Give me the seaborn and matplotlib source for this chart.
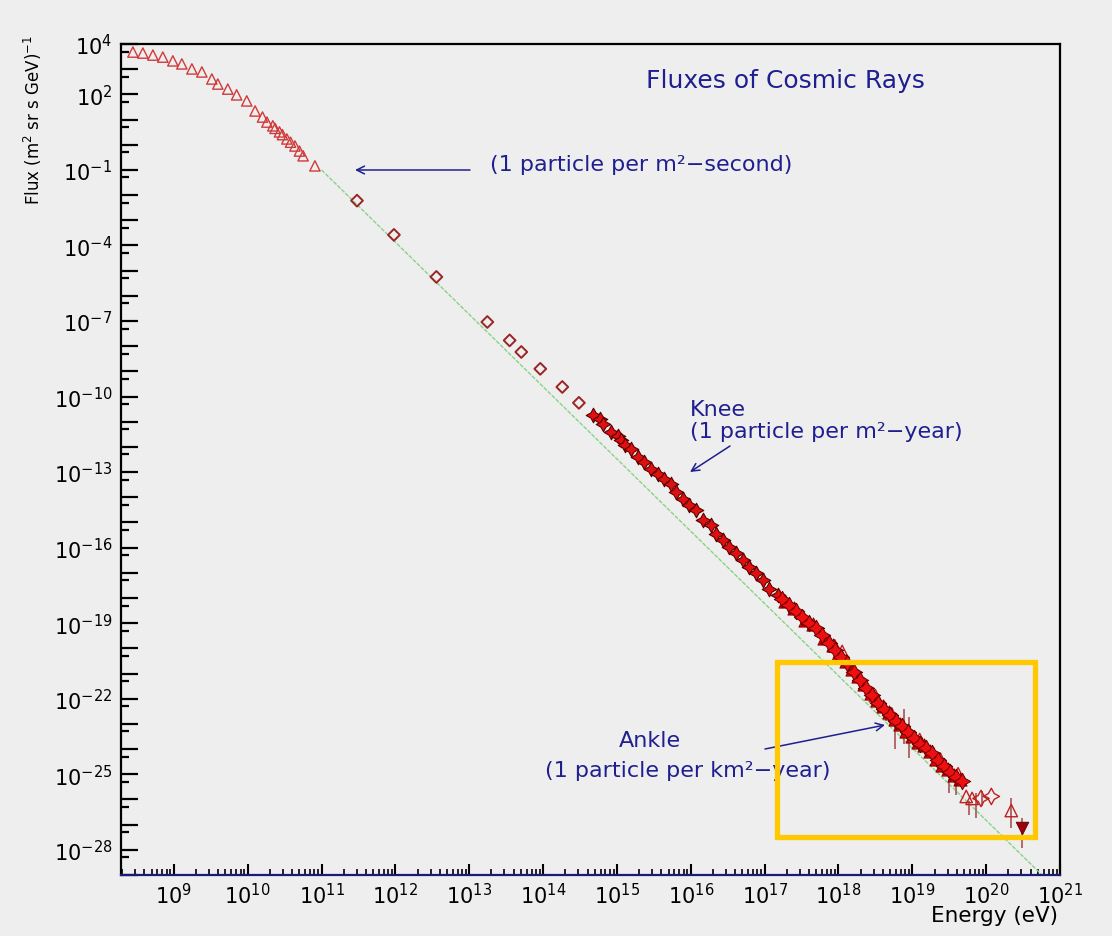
import numpy as np
import pandas as pd
import matplotlib
matplotlib.use("Agg")
import matplotlib.pyplot as plt
import matplotlib.ticker as mticker
from matplotlib.patches import Rectangle, FancyArrowPatch
import seaborn as sns

# ---------------- data (log10 energy in eV, log10 flux) ----------------
# direct low-energy measurements (open triangles)
low_log_e = [8.445, 8.58, 8.716, 8.85, 8.986, 9.108, 9.244, 9.379, 9.514, 9.595,
             9.73, 9.85, 9.987, 10.10, 10.20, 10.26, 10.34, 10.37, 10.43, 10.47,
             10.53, 10.58, 10.64, 10.70, 10.75, 10.91]
low_log_f = [3.68, 3.64, 3.56, 3.48, 3.33, 3.21, 3.01, 2.89, 2.61, 2.41,
             2.21, 1.98, 1.74, 1.34, 1.10, 0.90, 0.75, 0.65, 0.51, 0.40,
             0.23, 0.10, -0.05, -0.25, -0.44, -0.84]

# balloon / satellite points (open diamonds)
mid_log_e = [11.48, 11.98, 12.555, 13.245, 13.547, 13.705, 13.962, 14.26, 14.485]
mid_log_f = [-2.22, -3.58, -5.25, -7.04, -7.77, -8.23, -8.90, -9.62, -10.25]

# air-shower data around the knee (stars)
knee_log_e = [14.674, 14.765, 14.805, 14.923, 15.012, 15.058, 15.103, 15.194, 15.283, 15.373,
              15.464, 15.553, 15.644, 15.735, 15.80, 15.89, 15.98, 16.07, 16.16, 16.276,
              16.343, 16.433, 16.524, 16.614, 16.704, 16.794, 16.885, 16.974, 17.065, 17.177]
knee_log_f = [-10.72, -10.88, -11.08, -11.40, -11.56, -11.74, -11.94, -12.10, -12.40, -12.60,
              -12.87, -13.06, -13.26, -13.46, -13.79, -14.06, -14.32, -14.52, -14.92, -15.12,
              -15.44, -15.71, -15.97, -16.23, -16.50, -16.76, -17.02, -17.30, -17.63, -17.89]

# ultra-high-energy stars
uhe_log_e = [17.241, 17.336, 17.431, 17.512, 17.606, 17.701, 17.782, 17.877, 17.958, 18.04,
             18.12, 18.215, 18.296, 18.378, 18.459, 18.54, 18.62, 18.70, 18.784, 18.865,
             18.946, 19.027, 19.108, 19.19, 19.27, 19.35, 19.43, 19.51, 19.595, 19.677]
uhe_log_f = [-18.02, -18.26, -18.50, -18.74, -18.98, -19.21, -19.45, -19.77, -20.05, -20.33,
             -20.60, -20.92, -21.24, -21.56, -21.87, -22.15, -22.39, -22.63, -22.87, -23.10,
             -23.34, -23.54, -23.78, -23.94, -24.17, -24.45, -24.69, -24.89, -25.09, -25.25]

# ultra-high-energy filled triangles
tri_log_e = [17.28, 17.40, 17.55, 17.66, 17.80, 17.92, 18.00, 18.10, 18.18, 18.27,
             18.35, 18.44, 18.52, 18.60, 18.68, 18.76, 18.84, 18.92, 19.00, 19.08,
             19.16, 19.24, 19.32, 19.40, 19.48, 19.56, 19.64]
tri_log_f = [-18.10, -18.38, -18.86, -19.05, -19.58, -19.88, -20.22, -20.50, -20.80, -21.10,
             -21.40, -21.78, -22.05, -22.30, -22.52, -22.80, -23.00, -23.28, -23.48, -23.70,
             -23.85, -24.08, -24.38, -24.62, -24.80, -25.02, -25.18]

# open triangles
open_tri_log_e = [17.95, 18.05, 18.50, 18.72, 19.10, 19.38, 19.62, 19.73, 19.81, 20.34]
open_tri_log_f = [-19.90, -20.12, -21.88, -22.60, -23.62, -24.40, -24.98, -25.88, -25.96, -26.44]

# open stars at the highest energies
open_star_log_e = [19.93, 20.07]
open_star_log_f = [-25.96, -25.88]

# highest-energy point (filled down triangle)
top_log_e = [20.49]
top_log_f = [-27.15]

# vertical error bars: energy, lower and upper flux
err_log_e = [18.77, 18.89, 18.96, 19.50, 19.595, 19.77, 19.866, 19.947, 20.34, 20.49]
err_log_lo = [-23.98, -23.78, -24.37, -25.76, -25.84, -26.63, -26.75, -26.27, -27.15, -27.94]
err_log_hi = [-22.51, -22.39, -22.71, -25.17, -25.25, -26.08, -25.76, -25.68, -25.96, -26.75]

# reference power law
line_energy = [1.0e11, 1.0e21]
line_flux = [1.0e-1, 2.0e-30]

y_label_exps = [4, 2, -1, -4, -7, -10, -13, -16, -19, -22, -25, -28]
x_label_exps = list(range(9, 22))


def df(le, lf):
    return pd.DataFrame({"energy": np.power(10.0, le), "flux": np.power(10.0, lf)})


# ---------------- style ----------------
W, H = 1112, 937
BG = "#eeeeee"
NAVY = "#1f1f8f"
sns.set_style("white", {"axes.facecolor": BG, "figure.facecolor": BG})
plt.rcParams["font.family"] = ["DejaVu Sans"]
plt.rcParams["mathtext.fontset"] = "dejavusans"

fig = plt.figure(figsize=(W / 100, H / 100), dpi=100)
fig.patch.set_facecolor(BG)
ax = fig.add_axes([120.7 / W, 1 - 876 / H, (1060 - 120.7) / W, (876 - 45) / H])
ax.set_facecolor(BG)


def px(x, y):
    return (x / W, 1 - y / H)


# power-law guide
sns.lineplot(x=line_energy, y=line_flux, ax=ax, color="#86d486", lw=1.0,
             linestyle=(0, (3, 1)), zorder=1, sort=False)

# error bars
ax.vlines(np.power(10.0, err_log_e), np.power(10.0, err_log_lo), np.power(10.0, err_log_hi),
          color="#b06a6a", lw=1.4, zorder=2)

# markers
d = df(low_log_e, low_log_f)
sns.scatterplot(data=d, x="energy", y="flux", ax=ax, marker="^", s=55,
                color="#d03a3a", facecolor="none", edgecolor="#d03a3a", linewidth=1.0, zorder=3)
d = df(mid_log_e, mid_log_f)
sns.scatterplot(data=d, x="energy", y="flux", ax=ax, marker="D", s=36,
                color="#9a2525", facecolor="none", edgecolor="#9a2525", linewidth=1.4, zorder=3)
d = df(knee_log_e, knee_log_f)
sns.scatterplot(data=d, x="energy", y="flux", ax=ax, marker=(4, 1, 0), s=110,
                color="#e01010", edgecolor="#5a0000", linewidth=0.8, zorder=4)
d = df(open_tri_log_e, open_tri_log_f)
sns.scatterplot(data=d, x="energy", y="flux", ax=ax, marker="^", s=80,
                color="#d02020", facecolor="none", edgecolor="#c02020", linewidth=1.0, zorder=4)
d = df(tri_log_e, tri_log_f)
sns.scatterplot(data=d, x="energy", y="flux", ax=ax, marker="^", s=90,
                color="#e00000", edgecolor="#8a0000", linewidth=0.7, zorder=5)
d = df(uhe_log_e, uhe_log_f)
sns.scatterplot(data=d, x="energy", y="flux", ax=ax, marker=(4, 1, 0), s=140,
                color="#ee1010", edgecolor="#6a0000", linewidth=0.7, zorder=5)
d = df(open_star_log_e, open_star_log_f)
sns.scatterplot(data=d, x="energy", y="flux", ax=ax, marker=(4, 1, 0), s=140,
                color="#d02020", facecolor="none", edgecolor="#c02020", linewidth=1.0, zorder=5)
d = df(top_log_e, top_log_f)
sns.scatterplot(data=d, x="energy", y="flux", ax=ax, marker="v", s=80,
                color="#9a0010", edgecolor="#6a0000", linewidth=0.7, zorder=6)

# ---------------- axes ----------------
ax.set_xscale("log")
ax.set_yscale("log")
ax.set_xlim(10 ** 8.28, 1e21)
ax.set_ylim(1e-29, 1e4)
ax.set_xlabel("")
ax.set_ylabel("")

ax.xaxis.set_major_locator(mticker.FixedLocator([10.0 ** e for e in x_label_exps]))
ax.xaxis.set_major_formatter(mticker.FixedFormatter(["$10^{%d}$" % e for e in x_label_exps]))
ax.xaxis.set_minor_locator(mticker.LogLocator(base=10, subs=np.arange(2, 10), numticks=100))
ax.xaxis.set_minor_formatter(mticker.NullFormatter())

y_major = list(range(-29, 5))
ax.yaxis.set_major_locator(mticker.FixedLocator([10.0 ** e for e in y_major]))
ax.yaxis.set_major_formatter(mticker.FixedFormatter(
    ["$10^{%d}$" % e if e in y_label_exps else "" for e in y_major]))
ax.yaxis.set_minor_locator(mticker.FixedLocator([5 * 10.0 ** e for e in range(-30, 4)]))
ax.yaxis.set_minor_formatter(mticker.NullFormatter())

ax.tick_params(axis="x", which="major", direction="in", length=8, width=1.5,
               color="black", labelcolor="black", labelsize=15, pad=5, bottom=True, top=False)
ax.tick_params(axis="x", which="minor", direction="in", length=4.5, width=1.2,
               color="black", bottom=True, top=False)
ax.tick_params(axis="y", which="major", direction="in", length=12, width=1.6,
               color="black", labelcolor="black", labelsize=15, pad=6, left=True, right=False)
ax.tick_params(axis="y", which="minor", direction="in", length=6, width=1.6,
               color="black", left=True, right=False)

for name, sp in ax.spines.items():
    sp.set_visible(True)
    sp.set_linewidth(1.6)
    sp.set_color("black")
ax.spines["bottom"].set_color("#1a1a7a")

# ---------------- text ----------------
fig.text(*px(33, 35), r"Flux (m$^2$ sr s GeV)$^{-1}$", rotation=90, ha="center", va="top",
         fontsize=12, color="black")
fig.text(*px(1058, 916), "Energy (eV)", ha="right", va="center", fontsize=15.5, color="black")
fig.text(*px(785, 81), "Fluxes of Cosmic Rays", ha="center", va="center", fontsize=18, color=NAVY)

ANN = 16
fig.text(*px(490, 165), "(1 particle per m²−second)", ha="left", va="center",
         fontsize=ANN, color=NAVY)
fig.text(*px(690, 410), "Knee", ha="left", va="center", fontsize=ANN, color=NAVY)
fig.text(*px(690, 432), "(1 particle per m²−year)", ha="left", va="center",
         fontsize=ANN, color=NAVY)
fig.text(*px(650, 741), "Ankle", ha="center", va="center", fontsize=ANN, color=NAVY)
fig.text(*px(545, 771), "(1 particle per km²−year)", ha="left", va="center",
         fontsize=ANN, color=NAVY)

arrow = dict(arrowstyle="->", color=NAVY, lw=1.1, shrinkA=0, shrinkB=0, mutation_scale=14)
fig.add_artist(FancyArrowPatch(px(470, 171), px(355, 171), transform=fig.transFigure, **arrow))
fig.add_artist(FancyArrowPatch(px(730, 447), px(690, 473), transform=fig.transFigure, **arrow))
fig.add_artist(FancyArrowPatch(px(765, 750), px(885, 726), transform=fig.transFigure, **arrow))

# highlight box around the ankle region
x0, y0 = px(777, 838)
fig.add_artist(Rectangle((x0, y0), 258 / W, 175 / H, transform=fig.transFigure,
                         fill=False, edgecolor="#ffc800", linewidth=3.8, zorder=10))

fig.savefig("out.png", dpi=100, facecolor=BG)
